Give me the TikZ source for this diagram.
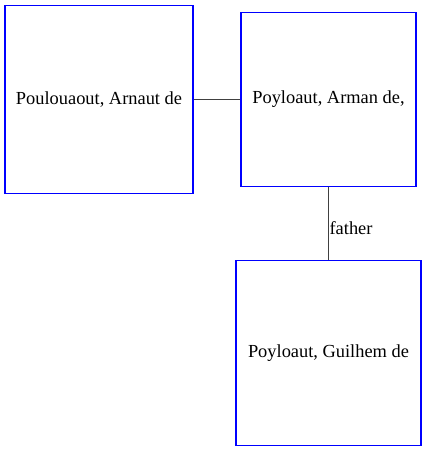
\documentclass[tikz,border=0pt]{standalone}
\usepackage{fontspec}
\setmainfont{Liberation Serif}
\begin{document}
\begin{tikzpicture}[x=1pt,y=1pt,
  box/.style={draw=blue, line width=1.2pt, inner sep=0pt, font=\fontsize{18.4}{20}\selectfont},
  link/.style={draw=black!75, line width=1.2pt},
  lbl/.style={font=\fontsize{18.4}{20}\selectfont}]
\useasboundingbox (0,0) rectangle (427,451);
\node[box, minimum width=188pt, minimum height=188pt] (a) at (99,351.5) {Poulouaout, Arnaut de};
\node[box, minimum width=175pt, minimum height=174pt] (b) at (328.5,351.5) {Poyloaut, Arman de,};
\node[box, minimum width=185pt, minimum height=185pt] (c) at (328.5,98) {Poyloaut, Guilhem de};
\draw[link] (a.east) -- (b.west);
\draw[link] (b.south) -- node[lbl, right, inner sep=0pt, yshift=-5pt, xshift=0.5pt] {father} (b.south |- c.north);
\end{tikzpicture}
\end{document}
